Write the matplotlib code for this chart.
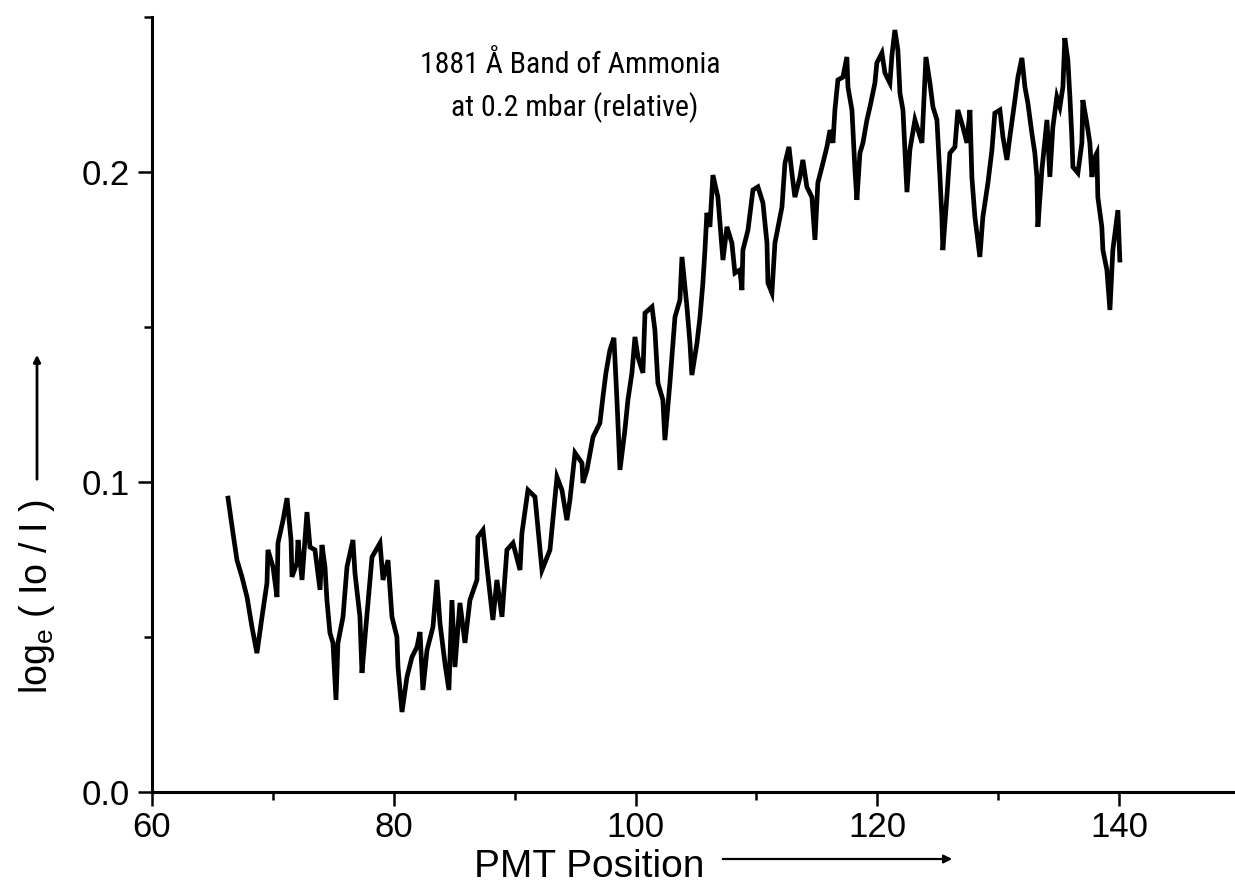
import matplotlib
matplotlib.use("Agg")
import matplotlib.pyplot as plt
from matplotlib import font_manager
from matplotlib.font_manager import FontProperties
from matplotlib.patches import FancyArrowPatch
from matplotlib.ticker import MultipleLocator, FormatStrFormatter

# ---- data ----
pmt_position = [
    66.29, 66.70, 67.03, 67.44, 67.86, 68.27, 68.68, 69.10, 69.51, 69.59,
    70.01, 70.34, 70.42, 70.84, 71.17, 71.50, 71.58, 71.99, 72.08, 72.41,
    72.82, 73.07, 73.48, 73.90, 74.06, 74.31, 74.47, 74.72, 74.97, 75.22,
    75.38, 75.80, 76.13, 76.62, 76.79, 77.20, 77.37, 77.62, 78.20, 78.86,
    79.11, 79.52, 79.85, 80.26, 80.35, 80.68, 81.09, 81.50, 81.92, 82.17,
    82.41, 82.75, 83.24, 83.57, 83.82, 84.23, 84.56, 84.81, 85.06, 85.47,
    85.89, 86.30, 86.88, 86.96, 87.38, 87.71, 88.20, 88.53, 88.95, 89.36,
    89.86, 90.44, 90.60, 91.10, 91.68, 92.26, 92.92, 93.50, 93.91, 94.32,
    94.57, 94.99, 95.57, 95.65, 95.98, 96.48, 97.05, 97.30, 97.55, 97.88,
    98.21, 98.46, 98.71, 99.12, 99.37, 99.70, 99.95, 100.20, 100.61, 100.78,
    101.36, 101.60, 101.85, 102.26, 102.43, 102.84, 103.26, 103.67, 103.84, 104.25,
    104.50, 104.66, 105.08, 105.33, 105.57, 105.74, 105.90, 106.15, 106.40, 106.81,
    106.98, 107.23, 107.56, 107.97, 108.22, 108.63, 108.80, 108.88, 109.30, 109.71,
    110.12, 110.54, 110.87, 110.95, 111.28, 111.53, 112.11, 112.36, 112.69, 112.93,
    113.18, 113.60, 113.84, 114.17, 114.59, 114.84, 115.08, 115.50, 115.83, 116.08,
    116.33, 116.49, 116.74, 117.15, 117.48, 117.57, 117.90, 118.15, 118.31, 118.56,
    118.81, 119.14, 119.39, 119.80, 119.96, 120.38, 120.63, 121.04, 121.21, 121.45,
    121.70, 121.87, 122.12, 122.28, 122.45, 122.69, 123.11, 123.69, 124.02, 124.35,
    124.60, 124.93, 125.18, 125.34, 125.42, 125.75, 126.00, 126.42, 126.66, 127.08,
    127.41, 127.66, 127.82, 128.07, 128.48, 128.73, 129.15, 129.48, 129.72, 130.14,
    130.39, 130.72, 130.96, 131.38, 131.63, 131.96, 132.21, 132.45, 132.78, 133.03,
    133.20, 133.28, 133.61, 134.03, 134.27, 134.52, 134.85, 135.10, 135.35, 135.51,
    135.76, 135.93, 136.09, 136.18, 136.59, 136.92, 137.00, 137.33, 137.58, 137.75,
    138.00, 138.16, 138.24, 138.57, 138.66, 138.99, 139.24, 139.48, 139.90, 140.06,
]

log_ratio = [
    0.0948, 0.0835, 0.0748, 0.0694, 0.0629, 0.0532, 0.0448, 0.0565, 0.0674, 0.0781,
    0.0726, 0.0629, 0.0803, 0.0877, 0.0948, 0.0813, 0.0694, 0.0739, 0.0813, 0.0684,
    0.0903, 0.0790, 0.0781, 0.0652, 0.0797, 0.0726, 0.0619, 0.0513, 0.0481, 0.0297,
    0.0481, 0.0565, 0.0726, 0.0813, 0.0706, 0.0565, 0.0384, 0.0500, 0.0758, 0.0803,
    0.0684, 0.0748, 0.0565, 0.0500, 0.0403, 0.0258, 0.0371, 0.0435, 0.0468, 0.0516,
    0.0329, 0.0458, 0.0532, 0.0684, 0.0545, 0.0416, 0.0329, 0.0619, 0.0403, 0.0610,
    0.0481, 0.0619, 0.0684, 0.0823, 0.0845, 0.0726, 0.0555, 0.0684, 0.0565, 0.0781,
    0.0803, 0.0716, 0.0835, 0.0974, 0.0952, 0.0716, 0.0781, 0.1016, 0.0974, 0.0877,
    0.0942, 0.1094, 0.1061, 0.0997, 0.1039, 0.1145, 0.1190, 0.1274, 0.1352, 0.1426,
    0.1465, 0.1265, 0.1039, 0.1168, 0.1265, 0.1352, 0.1468, 0.1403, 0.1352, 0.1545,
    0.1565, 0.1490, 0.1319, 0.1265, 0.1135, 0.1319, 0.1532, 0.1587, 0.1726, 0.1565,
    0.1448, 0.1345, 0.1448, 0.1532, 0.1642, 0.1748, 0.1868, 0.1823, 0.1990, 0.1919,
    0.1835, 0.1716, 0.1823, 0.1771, 0.1674, 0.1684, 0.1619, 0.1748, 0.1813, 0.1942,
    0.1952, 0.1900, 0.1771, 0.1642, 0.1610, 0.1771, 0.1887, 0.2029, 0.2081, 0.1997,
    0.1919, 0.1984, 0.2039, 0.1952, 0.1919, 0.1781, 0.1965, 0.2029, 0.2081, 0.2135,
    0.2094, 0.2200, 0.2297, 0.2306, 0.2371, 0.2274, 0.2200, 0.2006, 0.1910, 0.2061,
    0.2094, 0.2168, 0.2210, 0.2287, 0.2352, 0.2384, 0.2319, 0.2287, 0.2377, 0.2458,
    0.2394, 0.2255, 0.2200, 0.2071, 0.1935, 0.2071, 0.2168, 0.2094, 0.2371, 0.2287,
    0.2210, 0.2168, 0.1984, 0.1855, 0.1748, 0.1919, 0.2061, 0.2081, 0.2200, 0.2145,
    0.2094, 0.2200, 0.1984, 0.1855, 0.1726, 0.1855, 0.1965, 0.2071, 0.2190, 0.2200,
    0.2113, 0.2039, 0.2113, 0.2232, 0.2306, 0.2368, 0.2274, 0.2223, 0.2126, 0.2061,
    0.1984, 0.1823, 0.2006, 0.2168, 0.1984, 0.2145, 0.2242, 0.2210, 0.2274, 0.2432,
    0.2361, 0.2242, 0.2113, 0.2016, 0.1997, 0.2094, 0.2232, 0.2158, 0.2094, 0.1984,
    0.2048, 0.2061, 0.1919, 0.1823, 0.1748, 0.1684, 0.1555, 0.1748, 0.1877, 0.1716,
]

title_lines = ["1881 Å Band of Ammonia", "at 0.2 mbar (relative)"]
x_label = "PMT Position"
y_label = r"log$_\mathrm{e}$ ( Io / I )"

# ---- style ----
plt.rcParams["font.family"] = ["Liberation Sans", "DejaVu Sans"]
plt.rcParams["mathtext.fontset"] = "custom"
plt.rcParams["mathtext.rm"] = "Liberation Sans"
plt.rcParams["mathtext.it"] = "Liberation Sans:italic"

# the title in the reference is set in a narrow sans face; use one if installed
TITLE_SIZE = 21.5
title_fp = None
preferred = ["Liberation Sans Narrow", "Roboto Condensed", "Open Sans Condensed",
             "DejaVu Sans Condensed", "Arial Narrow"]
entries = font_manager.fontManager.ttflist
for name in preferred:
    for f in entries:
        if f.name == name and f.style == "normal" and f.weight in (400, "normal", "regular"):
            title_fp = FontProperties(fname=f.fname, size=TITLE_SIZE)
            break
    if title_fp is not None:
        break
if title_fp is None:
    for f in entries:
        if (str(f.stretch) in ("condensed", "semi-condensed") and f.style == "normal"
                and f.weight in (400, "normal", "regular")
                and any(k in f.name for k in ("Sans", "Roboto", "Lato", "Inter"))
                and "Mono" not in f.name):
            title_fp = FontProperties(fname=f.fname, size=TITLE_SIZE)
            break
if title_fp is None:
    title_fp = FontProperties(family=["Liberation Sans", "DejaVu Sans"], size=19.5)

W, H = 1235, 892
fig = plt.figure(figsize=(W / 100, H / 100), dpi=100)
fig.patch.set_facecolor("white")

# axes box in pixels: left 152, bottom y=792, top y=17, right 1240 (x=150)
ax = fig.add_axes([152 / W, (H - 792) / H, (1240 - 152) / W, (792 - 17) / H])
ax.set_facecolor("white")

ax.plot(pmt_position, log_ratio, color="black", lw=3.4, solid_joinstyle="miter")

ax.set_xlim(60, 150)
ax.set_ylim(0, 0.25)
ax.xaxis.set_major_locator(MultipleLocator(20))
ax.xaxis.set_minor_locator(MultipleLocator(10))
ax.yaxis.set_major_locator(MultipleLocator(0.1))
ax.yaxis.set_minor_locator(MultipleLocator(0.05))
ax.yaxis.set_major_formatter(FormatStrFormatter("%.1f"))
ax.xaxis.set_major_formatter(FormatStrFormatter("%d"))

for side in ("top", "right"):
    ax.spines[side].set_visible(False)
for side in ("left", "bottom"):
    ax.spines[side].set_linewidth(2.2)
    ax.spines[side].set_color("black")

ax.tick_params(which="major", direction="out", length=10, width=1.8,
               labelsize=25, color="black")
ax.tick_params(which="minor", direction="out", length=6, width=1.8, color="black")
ax.tick_params(axis="x", which="major", pad=4)
ax.tick_params(axis="y", which="major", pad=6)

# title inside the plot
fig.text(570 / W, 1 - 73 / H, title_lines[0], ha="center", va="baseline",
         fontproperties=title_fp)
fig.text(575 / W, 1 - 116 / H, title_lines[1], ha="center", va="baseline",
         fontproperties=title_fp)

# axis labels with arrows
fig.text(474 / W, 1 - 877 / H, x_label, ha="left", va="baseline", fontsize=28)
fig.add_artist(FancyArrowPatch((720 / W, 1 - 859 / H), (955 / W, 1 - 859 / H),
                               transform=fig.transFigure, arrowstyle="-|>",
                               mutation_scale=12, lw=1.6, color="black"))

fig.text(37 / W, 1 - 596 / H, y_label, ha="center", va="center",
         rotation=90, fontsize=27)
fig.add_artist(FancyArrowPatch((37 / W, 1 - 482 / H), (37 / W, 1 - 352 / H),
                               transform=fig.transFigure, arrowstyle="-|>",
                               mutation_scale=10, lw=2.0, color="black"))

fig.savefig("out.png", dpi=100, facecolor="white")
